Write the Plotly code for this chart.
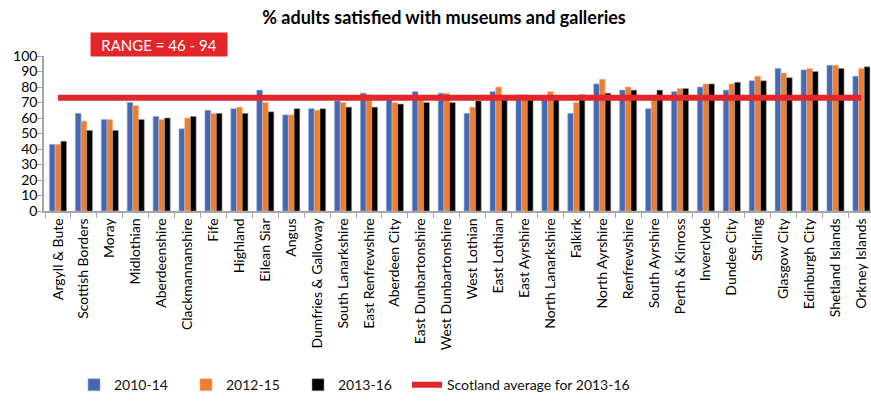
import plotly.graph_objects as go

areas = ["Argyll & Bute", "Scottish Borders", "Moray", "Midlothian", "Aberdeenshire",
         "Clackmannanshire", "Fife", "Highland", "Eilean Siar", "Angus",
         "Dumfries & Galloway", "South Lanarkshire", "East Renfrewshire", "Aberdeen City",
         "East Dunbartonshire", "West Dunbartonshire", "West Lothian", "East Lothian",
         "East Ayrshire", "North Lanarkshire", "Falkirk", "North Ayrshire", "Renfrewshire",
         "South Ayrshire", "Perth & Kinross", "Inverclyde", "Dundee City", "Stirling",
         "Glasgow City", "Edinburgh City", "Shetland Islands", "Orkney Islands"]

v_2010_14 = [43, 63, 59, 70, 61, 53, 65, 66, 78, 62, 66, 71, 76, 73, 77, 76,
             63, 77, 75, 74, 63, 82, 78, 66, 77, 80, 78, 84, 92, 91, 94, 87]
v_2012_15 = [43, 58, 59, 68, 59, 60, 63, 67, 70, 62, 65, 70, 75, 70, 73, 76,
             67, 80, 75, 77, 70, 85, 80, 72, 79, 82, 82, 87, 89, 92, 94, 92]
v_2013_16 = [45, 52, 52, 59, 60, 61, 63, 63, 64, 66, 66, 67, 67, 69, 70, 70,
             71, 72, 72, 72, 75, 76, 78, 78, 79, 82, 83, 84, 86, 90, 92, 93]
scotland_avg = 73

FONT = "Lato"
W, H = 871, 405

fig = go.Figure()
fig.add_trace(go.Bar(x=areas, y=v_2010_14, name="2010-14",
                     marker=dict(color="#4468B4", line=dict(color="#8FA8D8", width=0.6))))
fig.add_trace(go.Bar(x=areas, y=v_2012_15, name="2012-15",
                     marker=dict(color="#ED7D31", line=dict(color="#F5B88E", width=0.6))))
fig.add_trace(go.Bar(x=areas, y=v_2013_16, name="2013-16",
                     marker=dict(color="#000000", line=dict(color="#9A9A9A", width=0.6))))
fig.add_trace(go.Scatter(x=areas, y=[scotland_avg] * len(areas), mode="lines",
                         name="Scotland average for 2013-16", legend="legend2",
                         line=dict(color="#E3262A", width=6)))

fig.update_layout(
    width=W, height=H,
    margin=dict(l=44, r=0, t=56, b=194, autoexpand=False),
    paper_bgcolor="white", plot_bgcolor="white",
    font=dict(family=FONT, size=14, color="#1a1a1a"),
    title=dict(text="<b>% adults satisfied with museums and galleries</b>",
               x=444 / W, xanchor="center", y=1 - 18 / H, yanchor="middle",
               font=dict(family=FONT, size=18, color="#000")),
    barmode="group", bargap=0.34, bargroupgap=0,
    showlegend=True,
    legend=dict(orientation="h", xref="container", yref="container",
                x=74 / W, xanchor="left", y=0.049, yanchor="middle",
                entrywidth=67, entrywidthmode="pixels", traceorder="normal",
                font=dict(family=FONT, size=14, color="#111"), itemwidth=30),
    legend2=dict(orientation="h", xref="container", yref="container",
                 x=407 / W, xanchor="left", y=0.049, yanchor="middle",
                 font=dict(family=FONT, size=14, color="#111"), itemwidth=30),
    xaxis=dict(type="category", range=[-0.54, 31.37], showline=True, linecolor="#A6A6A6",
               linewidth=1.5, ticks="outside", tickson="boundaries", ticklen=5,
               tickcolor="#A6A6A6", tickangle=-90, showgrid=False, automargin=False,
               tickfont=dict(family=FONT, size=14, color="#000")),
    yaxis=dict(range=[0, 100], dtick=10, showline=True, linecolor="#A6A6A6", linewidth=1.5,
               ticks="outside", ticklen=5, tickcolor="#A6A6A6", showgrid=False,
               zeroline=False, automargin=False, ticklabelstandoff=-3,
               tickfont=dict(family=FONT, size=14, color="#000")),
)

fig.add_annotation(text="RANGE = 46 - 94", xref="paper", yref="paper",
                   x=0.139, y=1.074, xanchor="center", yanchor="middle",
                   showarrow=False, bgcolor="#E3262A", width=132, height=19, borderpad=2,
                   font=dict(family=FONT, size=15, color="white"))

fig.write_html("out.html", config={"displayModeBar": False},
               post_script="document.body.style.margin='0';document.body.style.overflow='hidden';")
